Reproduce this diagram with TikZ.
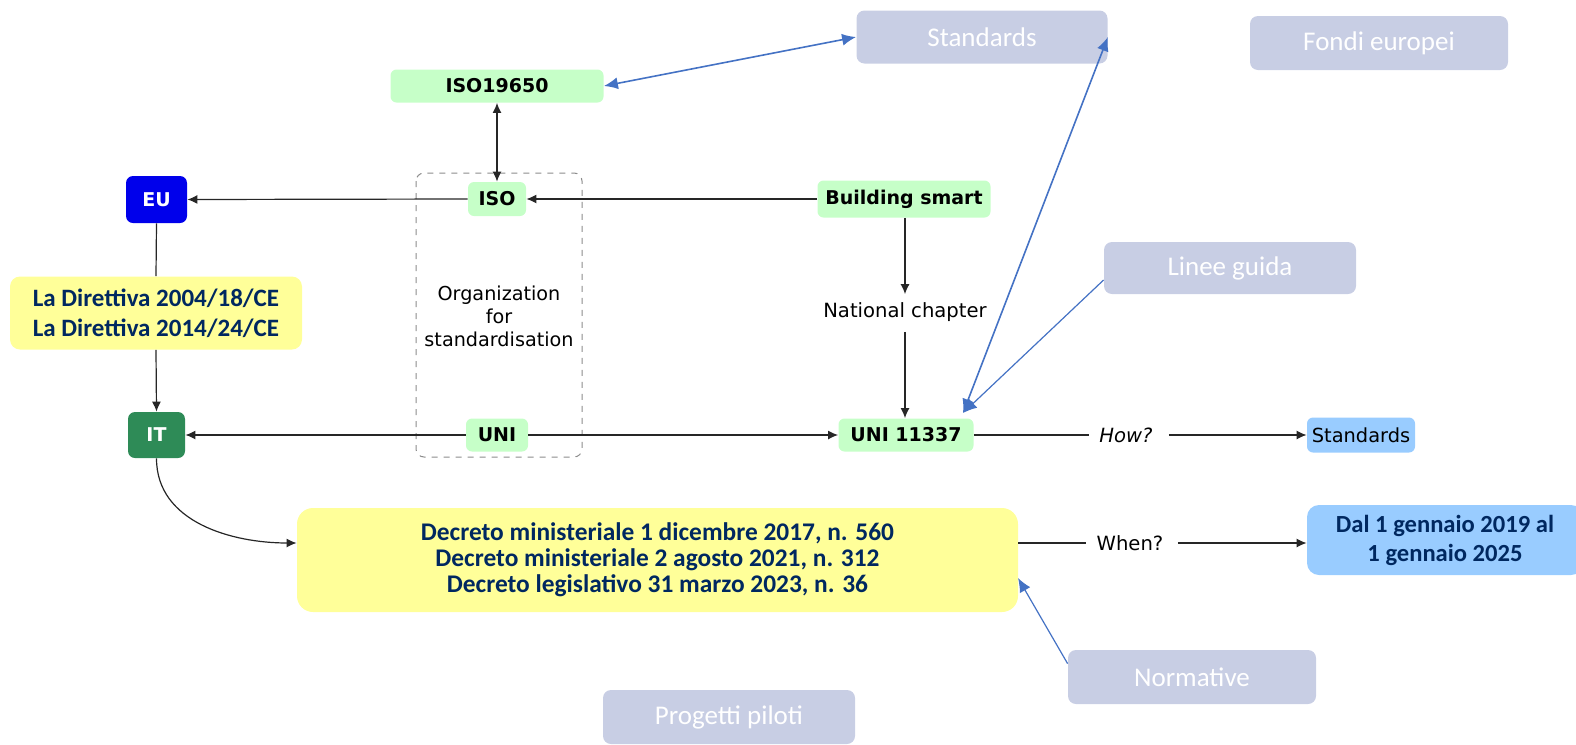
\documentclass[tikz,border=0pt]{standalone}
\usepackage{fontspec}
\setmainfont{DejaVu Sans}
\newfontfamily\calib{Carlito}
\usepackage{tikz}
\usetikzlibrary{arrows.meta}

\definecolor{verdino}{RGB}{198,255,200}
\definecolor{blueu}{RGB}{0,0,235}
\definecolor{greenit}{RGB}{46,139,87}
\definecolor{giallino}{RGB}{255,255,153}
\definecolor{navy}{RGB}{0,40,96}
\definecolor{grigiobox}{RGB}{200,206,228}
\definecolor{bluarrow}{RGB}{68,114,196}
\definecolor{azzurro}{RGB}{153,204,255}

\begin{document}
\begin{tikzpicture}[x=0.5pt,y=-0.5pt,
    every node/.style={inner sep=0pt, font=\fontsize{9.8}{11.5}\selectfont},
    verde/.style={fill=verdino, rounded corners=3pt, font=\bfseries\fontsize{9.5}{11}\selectfont},
    paese/.style={rounded corners=3.5pt, text=white, font=\bfseries\fontsize{9.5}{11}\selectfont},
    grigio/.style={fill=grigiobox, rounded corners=4pt, text=white, font=\calib\fontsize{13.5}{15}\selectfont,
      minimum width=125.5pt, minimum height=26.5pt},
    giallo/.style={fill=giallino, text=navy, align=center},
    freccia/.style={-{Latex[length=5pt,width=4.5pt]}, line width=0.6pt, draw=black!85},
    linea/.style={line width=0.6pt, draw=black!85},
    blu/.style={line width=0.8pt, draw=bluarrow, {Latex[length=7pt,width=6pt]}-{Latex[length=7pt,width=6pt]}},
    blufine/.style={line width=0.6pt, draw=bluarrow, -{Latex[length=7pt,width=6pt]}}]
  \useasboundingbox (0,0) rectangle (1576,745);

  % Nodi
  \node[grigio] (stdtop) at (982,37) {Standards};
  \node[grigio, minimum width=129pt, minimum height=27pt] (fondi) at (1379,43) {Fondi europei};
  \node[grigio, minimum width=126pt, minimum height=26pt] (linee) at (1230,268) {Linee guida};
  \node[grigio, minimum width=124pt, minimum height=27pt] (normative) at (1192,677) {Normative};
  \node[grigio, minimum width=126pt, minimum height=27pt] (progetti) at (729,717) {Progetti piloti};

  \node[verde, minimum width=106.5pt, minimum height=16.5pt] (iso19650) at (497,86) {ISO19650};
  \node[verde, minimum width=29pt, minimum height=17pt] (iso) at (497,199) {ISO};
  \node[verde, minimum width=86.5pt, minimum height=18.5pt] (bsmart) at (904,199) {Building smart};
  \node[verde, minimum width=31pt, minimum height=16.5pt] (uni) at (497,435) {UNI};
  \node[verde, minimum width=67.5pt, minimum height=16.5pt] (uni11337) at (906,435) {UNI 11337};

  \node[paese, fill=blueu, minimum width=30.5pt, minimum height=23.5pt] (eu) at (156.5,199.5) {EU};
  \node[paese, fill=greenit, minimum width=28.5pt, minimum height=23pt] (it) at (156.5,435) {IT};

  \draw[black!45, dashed, rounded corners=4pt, line width=0.5pt] (416,173) rectangle (582,457);
  \node[align=center, font=\fontsize{9.6}{11.5}\selectfont] (org) at (499,316) {Organization\\for\\standardisation};
  \node (natch) at (905,312) {National chapter};

  \node[giallo, minimum width=146pt, minimum height=36.5pt, rounded corners=5pt,
    font=\calib\bfseries\fontsize{12.5}{15}\selectfont] (dirett) at (156,313)
    {La Direttiva 2004/18/CE\\La Direttiva 2014/24/CE};
  \node[giallo, minimum width=360.5pt, minimum height=52pt, rounded corners=8pt,
    font=\calib\bfseries\fontsize{12.7}{13}\selectfont] (decreto) at (657.5,560)
    {Decreto ministeriale 1 dicembre 2017, n. 560\\Decreto ministeriale 2 agosto 2021, n. 312\\Decreto legislativo 31 marzo 2023, n. 36};

  \node[font=\itshape\fontsize{9.8}{11.5}\selectfont] (how) at (1126,435) {How?};
  \node (when) at (1130,543) {When?};
  \node[fill=azzurro, rounded corners=3pt, minimum width=54pt, minimum height=17.5pt,
    font=\fontsize{9.7}{11}\selectfont] (stdright) at (1361,435) {Standards};
  \node[fill=azzurro, rounded corners=6pt, text=navy, align=center, minimum width=138pt, minimum height=35pt,
    font=\calib\bfseries\fontsize{12.3}{14.5}\selectfont] (dal) at (1445,540)
    {Dal 1 gennaio 2019 al\\1 gennaio 2025};

  \coordinate (hit) at (963,413);
  \coordinate (dtip) at (1018,578);

  % Frecce
  \draw[{Latex[length=5pt,width=4.5pt]}-{Latex[length=5pt,width=4.5pt]}, line width=0.6pt, draw=black!85]
    (iso19650.south) -- (iso.north);
  \draw[freccia] (bsmart.west) -- (iso.east);
  \draw[freccia] (iso.west) -- (eu.east);
  \draw[linea] (eu.south) -- (dirett.north);
  \draw[freccia] (dirett.south) -- (it.north);
  \draw[freccia] (uni.west) -- (it.east);
  \draw[freccia] (uni.east) -- (uni11337.west);
  \draw[freccia] (bsmart.south -| natch) -- ([yshift=4pt]natch.north);
  \draw[freccia] ([yshift=-5pt]natch.south) -- (natch.south |- uni11337.north);
  \draw[linea] (uni11337.east) -- ([xshift=-5pt]how.west);
  \draw[freccia] ([xshift=8pt]how.east) -- (stdright.west);
  \draw[freccia] (it.south) to[out=-90, in=180] (decreto.west |- when);
  \draw[linea] (decreto.east |- when) -- ([xshift=-5pt]when.west);
  \draw[freccia] ([xshift=7pt]when.east) -- (dal.west |- when);

  \draw[blu] (iso19650.east) -- (stdtop.west);
  \draw[blu] (hit) -- (stdtop.east);
  \draw[blufine] ([yshift=-6pt]linee.west) -- (hit);
  \draw[blufine] ([yshift=-7pt]normative.north west) -- (dtip);
\end{tikzpicture}
\end{document}
